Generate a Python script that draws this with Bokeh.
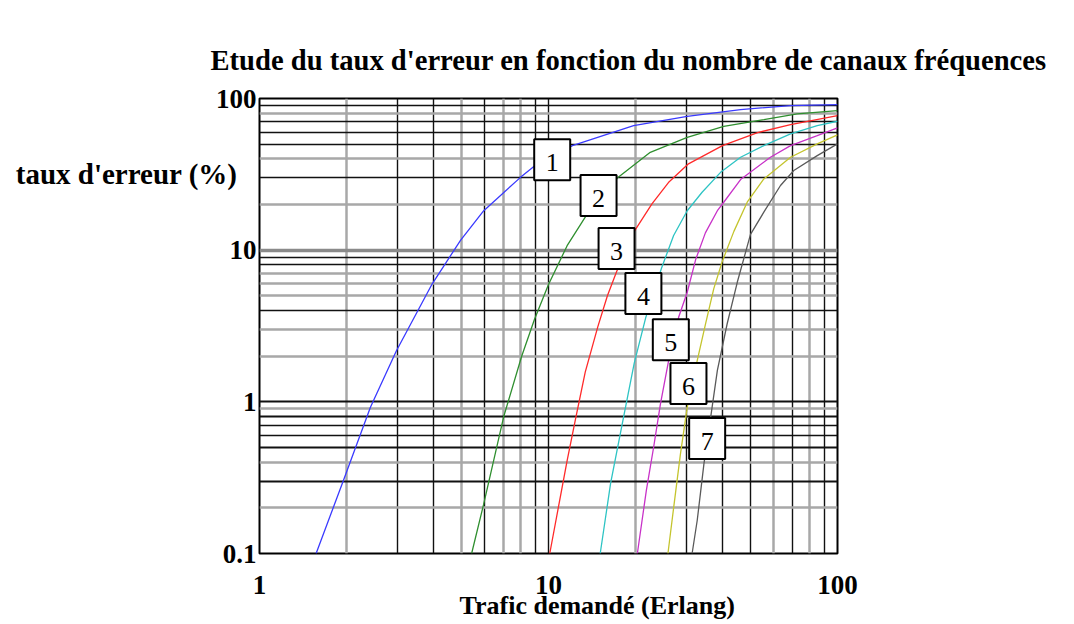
from bokeh.plotting import figure
from bokeh.models import Range1d, FixedTicker, Grid, NumeralTickFormatter, Title, LinearAxis
from bokeh.core.properties import value
from bokeh.embed import file_html
from bokeh.resources import INLINE

# ---- data (traffic in Erlang, error rate in %) ----
x1 = [1.57, 1.96, 2.42, 2.98, 3.96, 4.96, 5.97, 8.0, 8.9, 12.1, 19.7, 30.2, 46.2, 68.8, 100]
y1 = [0.1, 0.31, 0.92, 2.18, 6.0, 11.6, 18.2, 30.2, 35.6, 48.9, 66.3, 76.3, 84.5, 89.8, 91.2]

x2 = [5.42, 5.96, 7.0, 8.07, 8.94, 10.0, 11.6, 13.4, 17.3, 22.5, 30.2, 40.4, 55.6, 72.5, 100]
y2 = [0.1, 0.21, 0.80, 1.99, 3.49, 5.93, 10.7, 16.5, 29.9, 44.2, 55.5, 65.6, 72.6, 79.1, 83.2]

x3 = [10.1, 11.6, 12.4, 13.4, 14.8, 16.0, 17.2, 19.7, 22.8, 26.0, 30.5, 40.0, 52.9, 68.8, 100]
y3 = [0.1, 0.41, 0.77, 1.57, 3.11, 5.02, 7.2, 13.1, 20.2, 27.9, 37.1, 48.9, 59.6, 67.3, 77.1]

x4 = [15.1, 16.4, 18.2, 19.8, 21.7, 24.6, 27.1, 30.2, 34.0, 39.4, 46.2, 55.6, 68.8, 85.1, 100]
y4 = [0.1, 0.29, 0.80, 1.80, 3.59, 7.6, 12.5, 18.2, 24.1, 32.6, 41.0, 48.9, 58.4, 66.3, 70.8]

x5 = [20.3, 21.8, 23.1, 24.4, 26.0, 28.2, 30.2, 32.3, 34.9, 38.4, 40.4, 46.2, 58.6, 68.8, 85.1, 100]
y5 = [0.1, 0.26, 0.50, 0.97, 1.84, 3.61, 5.28, 8.67, 13.0, 18.2, 20.7, 29.2, 41.0, 48.9, 56.9, 64.0]

x6 = [25.9, 27.1, 28.6, 30.2, 32.7, 34.9, 37.3, 39.9, 43.8, 48.7, 55.6, 68.8, 85.1, 100]
y6 = [0.1, 0.20, 0.45, 0.92, 1.87, 3.23, 5.56, 8.4, 13.3, 20.7, 29.5, 41.0, 50.2, 57.5]

x7 = [31.4, 32.7, 34.5, 36.4, 38.4, 41.5, 45.0, 50.0, 55.6, 63.5, 70.6, 85.1, 100]
y7 = [0.1, 0.165, 0.39, 0.79, 1.61, 3.26, 6.14, 12.7, 17.8, 26.7, 33.5, 42.0, 50.2]

curve_names = ["1", "2", "3", "4", "5", "6", "7"]
label_x = [10.3, 14.9, 17.2, 21.3, 26.5, 30.5, 35.4]
label_y = [39.5, 22.9, 10.25, 5.18, 2.57, 1.32, 0.573]

x_ticks = [1, 10, 100]
y_ticks = [0.1, 1, 10, 100]

title_text = "Etude du taux d'erreur en fonction du nombre de canaux fréquences"
x_title = "Trafic demandé (Erlang)"
y_title = "taux d'erreur (%)"

# grid lines as drawn in the scan
v_black = [3, 4, 6, 9, 10, 30, 40, 50, 70, 90]
v_gray = [2, 5, 7, 8, 20, 60, 80]
h_black = [90, 70, 60, 50, 30, 9, 8, 4, 0.7, 0.6]
h_black_thick = [1, 0.8, 0.5, 0.3]
h_gray = [80, 40, 20, 7, 6, 5, 3, 2, 0.9, 0.4, 0.2]
h_gray_thick = [10]

colors = ["#3a3aff", "#2f8f2f", "#ff2a2a", "#2ec4c4", "#c832c8", "#c4c42e", "#5a5a5a"]
SERIF = "Liberation Serif"

p = figure(width=1074, height=624, x_axis_type="log", y_axis_type="log",
           x_range=Range1d(1, 100), y_range=Range1d(0.1, 100),
           output_backend="svg", toolbar_location=None, title=None,
           min_border_left=259, min_border_right=237, min_border_top=98, min_border_bottom=71)
p.background_fill_color = "white"
p.border_fill_color = "white"
p.outline_line_color = "black"
p.outline_line_width = 2
p.xgrid.visible = False
p.ygrid.visible = False

def add_grid(dim, ticks, color, width):
    g = Grid(dimension=dim, ticker=FixedTicker(ticks=ticks), grid_line_color=color, grid_line_width=width)
    p.add_layout(g)

add_grid(0, v_gray, "#a8a8a8", 2.5)
add_grid(0, v_black, "#111111", 1.4)
add_grid(1, h_gray, "#a8a8a8", 2.5)
add_grid(1, h_gray_thick, "#8a8a8a", 3.5)
add_grid(1, h_black, "#111111", 1.3)
add_grid(1, h_black_thick, "#111111", 2.2)

for ax, ticks in ((p.xaxis, x_ticks), (p.yaxis, y_ticks)):
    ax.ticker = FixedTicker(ticks=ticks)
    ax.formatter = NumeralTickFormatter(format="0.[0]")
    ax.axis_line_color = None
    ax.major_tick_line_color = None
    ax.minor_tick_line_color = None
    ax.major_tick_out = 0
    ax.major_tick_in = 0
    ax.minor_tick_out = 0
    ax.major_label_text_font = SERIF
    ax.major_label_text_font_style = "bold"
    ax.major_label_text_font_size = "27px"
    ax.major_label_text_color = "black"
p.xaxis.major_label_standoff = 22
p.yaxis.major_label_standoff = 3

xs = [x1, x2, x3, x4, x5, x6, x7]
ys = [y1, y2, y3, y4, y5, y6, y7]
for xv, yv, c in zip(xs, ys, colors):
    p.line(xv, yv, line_color=c, line_width=1.3)

p.rect(x=label_x, y=label_y, width=36, height=41, width_units="screen", height_units="screen",
       fill_color="white", line_color="black", line_width=2)
p.text(x=label_x, y=label_y, text=curve_names, text_font=value(SERIF), text_font_size=value("26px"),
       text_align="center", text_baseline="middle", text_color="black", y_offset=3)

p.add_layout(Title(text=title_text, align="left", offset=-49, standoff=45, text_font=SERIF,
                   text_font_style="bold", text_font_size="28.6px", text_color="black"), "above")

# axis titles carried by tick-less helper axes
p.extra_x_ranges = {"xlab": Range1d(0, 1)}
p.extra_y_ranges = {"ylab": Range1d(0, 1)}

def label_axis(axis, text, size, standoff):
    axis.ticker = FixedTicker(ticks=[])
    axis.axis_line_color = None
    axis.major_tick_line_color = None
    axis.minor_tick_line_color = None
    axis.major_tick_out = 0
    axis.major_tick_in = 0
    axis.major_label_text_font_size = "0px"
    axis.axis_label = text
    axis.axis_label_text_font = SERIF
    axis.axis_label_text_font_style = "bold"
    axis.axis_label_text_font_size = size
    axis.axis_label_text_color = "black"
    axis.axis_label_standoff = standoff

# x title sits right of the frame centre, as in the scan
xl = LinearAxis(x_range_name="xlab")
label_axis(xl, "\u00a0" * 15 + x_title, "26px", -6)
p.add_layout(xl, "below")

# y title is written horizontally, high up beside the frame
yl = LinearAxis(y_range_name="ylab", axis_label_orientation="horizontal")
label_axis(yl, y_title + "\n" * 10, "29px", -25)
yl.axis_label_text_line_height = 0.95
p.add_layout(yl, "left")

open("out.html", "w").write(file_html(p, INLINE))
